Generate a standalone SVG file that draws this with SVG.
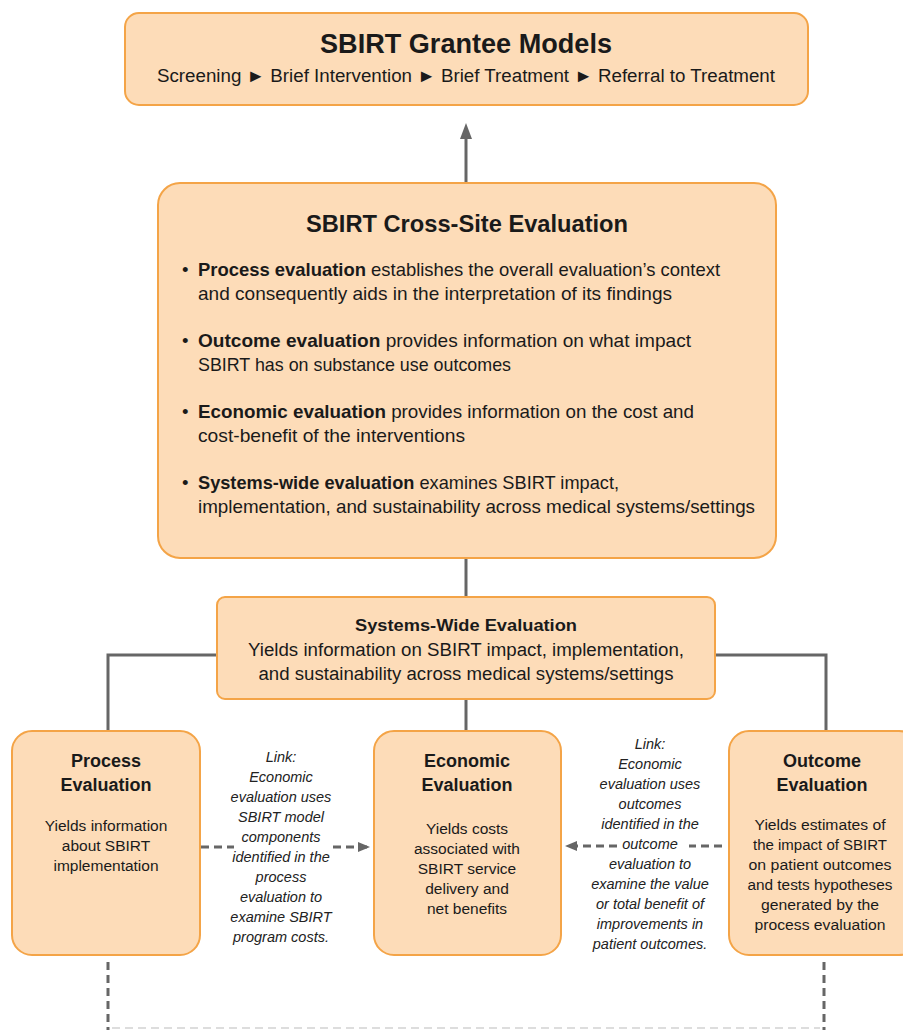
<svg xmlns="http://www.w3.org/2000/svg" width="903" height="1030" viewBox="0 0 903 1030">
<style>
.box{fill:#fddcb8;stroke:#f4a447;stroke-width:2}
.t{font-family:"Liberation Sans",Arial,sans-serif;fill:#1a1a1a}
.b{font-weight:bold}
.c{text-anchor:middle}
.lk{font-family:"Liberation Sans",Arial,sans-serif;font-style:italic;font-size:14.5px;fill:#222;text-anchor:middle}
.ln{stroke:#666;stroke-width:3;fill:none}
.ds{stroke:#666;stroke-width:3;fill:none;stroke-dasharray:8 5}
.bd{font-size:15.5px}
</style>
<defs>
<marker id="ah" markerWidth="12" markerHeight="10" refX="11" refY="5" orient="auto" markerUnits="userSpaceOnUse">
<path d="M0,0 L12,5 L0,10 z" fill="#666"/>
</marker>
</defs>
<rect width="903" height="1030" fill="#fff"/>
<g id="connectors">
<line class="ln" x1="466" y1="183" x2="466" y2="138"/>
<path d="M460,139 L466,123 L472,139 z" fill="#666"/>
<line class="ln" x1="466" y1="558" x2="466" y2="598"/>
<polyline class="ln" points="217,655 108,655 108,731"/>
<polyline class="ln" points="715,655 826,655 826,731"/>
<line class="ln" x1="466" y1="699" x2="466" y2="731"/>
<line class="ds" x1="201" y1="847" x2="234" y2="847"/>
<line class="ds" x1="333" y1="847" x2="369" y2="847" marker-end="url(#ah)"/>
<line class="ds" x1="722" y1="846" x2="689" y2="846"/>
<line class="ds" x1="617" y1="846" x2="566" y2="846" marker-end="url(#ah)"/>
<line class="ds" x1="108" y1="962" x2="108" y2="1030"/>
<line class="ds" x1="824" y1="962" x2="824" y2="1030"/>
<line x1="112" y1="1028" x2="820" y2="1028" stroke="#ddd" stroke-width="2" stroke-dasharray="8 5"/>
</g>
<g id="grantee">
<rect class="box" x="125" y="13" width="683" height="92" rx="14"/>
<text class="t b c" x="466" y="53" font-size="27" textLength="292" lengthAdjust="spacingAndGlyphs">SBIRT Grantee Models</text>
<text class="t c" x="466" y="82" font-size="18" textLength="618" lengthAdjust="spacingAndGlyphs">Screening ► Brief Intervention ► Brief Treatment  ► Referral to Treatment</text>
</g>
<g id="crosssite">
<rect class="box" x="158" y="183" width="618" height="375" rx="22"/>
<text class="t b c" x="467" y="232" font-size="24.5" textLength="322" lengthAdjust="spacingAndGlyphs">SBIRT Cross-Site Evaluation</text>
<g class="t" font-size="18.5">
<text x="182" y="276">•</text>
<text x="198" y="276" textLength="522" lengthAdjust="spacingAndGlyphs"><tspan class="b">Process evaluation</tspan> establishes the overall evaluation’s context</text>
<text x="198" y="300" textLength="474" lengthAdjust="spacingAndGlyphs">and consequently aids in the interpretation of its findings</text>
<text x="182" y="347">•</text>
<text x="198" y="347" textLength="493" lengthAdjust="spacingAndGlyphs"><tspan class="b">Outcome evaluation</tspan> provides information on what impact</text>
<text x="198" y="371" textLength="313" lengthAdjust="spacingAndGlyphs">SBIRT has on substance use outcomes</text>
<text x="182" y="418">•</text>
<text x="198" y="418" textLength="496" lengthAdjust="spacingAndGlyphs"><tspan class="b">Economic evaluation</tspan> provides information on the cost and</text>
<text x="198" y="442" textLength="267" lengthAdjust="spacingAndGlyphs">cost-benefit of the interventions</text>
<text x="182" y="489">•</text>
<text x="198" y="489" textLength="421" lengthAdjust="spacingAndGlyphs"><tspan class="b">Systems-wide evaluation</tspan> examines SBIRT impact,</text>
<text x="198" y="513" textLength="557" lengthAdjust="spacingAndGlyphs">implementation, and sustainability across medical systems/settings</text>
</g>
</g>
<g id="systemswide">
<rect class="box" x="217" y="597" width="498" height="102" rx="8"/>
<text class="t b c" x="466" y="631" font-size="17" textLength="222" lengthAdjust="spacingAndGlyphs">Systems-Wide Evaluation</text>
<text class="t c" x="466" y="656" font-size="18" textLength="436" lengthAdjust="spacingAndGlyphs">Yields information on SBIRT impact, implementation,</text>
<text class="t c" x="466" y="680" font-size="18" textLength="415" lengthAdjust="spacingAndGlyphs">and sustainability across medical systems/settings</text>
</g>
<g id="process">
<rect class="box" x="12" y="731" width="188" height="224" rx="20"/>
<text class="t b c" x="106" y="767" font-size="18">Process</text>
<text class="t b c" x="106" y="791" font-size="18">Evaluation</text>
<text class="t c bd" x="106" y="831">Yields information</text>
<text class="t c bd" x="106" y="851">about SBIRT</text>
<text class="t c bd" x="106" y="871">implementation</text>
</g>
<g id="economic">
<rect class="box" x="374" y="731" width="187" height="224" rx="20"/>
<text class="t b c" x="467" y="767" font-size="18">Economic</text>
<text class="t b c" x="467" y="791" font-size="18">Evaluation</text>
<text class="t c bd" x="467" y="834">Yields costs</text>
<text class="t c bd" x="467" y="854">associated with</text>
<text class="t c bd" x="467" y="874">SBIRT service</text>
<text class="t c bd" x="467" y="894">delivery and</text>
<text class="t c bd" x="467" y="914">net benefits</text>
</g>
<g id="outcome">
<rect class="box" x="729" y="731" width="190" height="224" rx="20"/>
<text class="t b c" x="822" y="767" font-size="18">Outcome</text>
<text class="t b c" x="822" y="791" font-size="18">Evaluation</text>
<text class="t c bd" x="820" y="830" textLength="131" lengthAdjust="spacingAndGlyphs">Yields estimates of</text>
<text class="t c bd" x="820" y="850" textLength="134" lengthAdjust="spacingAndGlyphs">the impact of SBIRT</text>
<text class="t c bd" x="820" y="870" textLength="143" lengthAdjust="spacingAndGlyphs">on patient outcomes</text>
<text class="t c bd" x="820" y="890" textLength="145" lengthAdjust="spacingAndGlyphs">and tests hypotheses</text>
<text class="t c bd" x="820" y="910" textLength="118" lengthAdjust="spacingAndGlyphs">generated by the</text>
<text class="t c bd" x="820" y="930" textLength="131" lengthAdjust="spacingAndGlyphs">process evaluation</text>
</g>
<g id="link-left">
<text class="lk" x="281" y="762">Link:</text>
<text class="lk" x="281" y="782">Economic</text>
<text class="lk" x="281" y="802">evaluation uses</text>
<text class="lk" x="281" y="822">SBIRT model</text>
<text class="lk" x="281" y="842">components</text>
<text class="lk" x="281" y="862">identified in the</text>
<text class="lk" x="281" y="882">process</text>
<text class="lk" x="281" y="902">evaluation to</text>
<text class="lk" x="281" y="922">examine SBIRT</text>
<text class="lk" x="281" y="942">program costs.</text>
</g>
<g id="link-right">
<text class="lk" x="650" y="749">Link:</text>
<text class="lk" x="650" y="769">Economic</text>
<text class="lk" x="650" y="789">evaluation uses</text>
<text class="lk" x="650" y="809">outcomes</text>
<text class="lk" x="650" y="829">identified in the</text>
<text class="lk" x="650" y="849">outcome</text>
<text class="lk" x="650" y="869">evaluation to</text>
<text class="lk" x="650" y="889">examine the value</text>
<text class="lk" x="650" y="909">or total benefit of</text>
<text class="lk" x="650" y="929">improvements in</text>
<text class="lk" x="650" y="949">patient outcomes.</text>
</g>
</svg>
